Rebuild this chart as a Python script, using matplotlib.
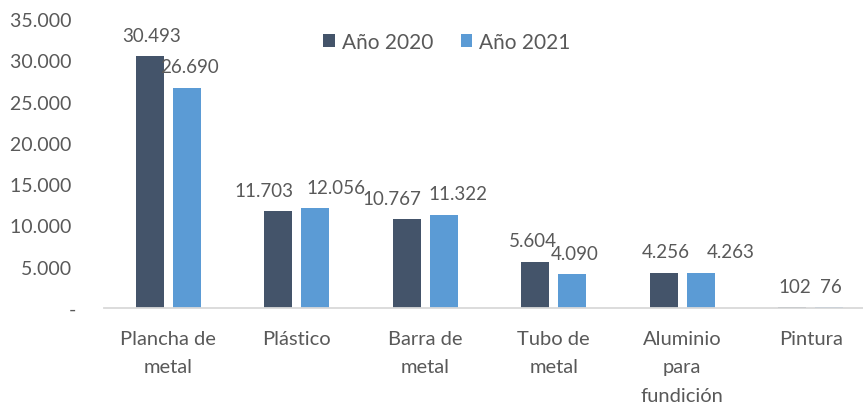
import numpy as np
import matplotlib
matplotlib.use("Agg")
import matplotlib.pyplot as plt
from matplotlib.ticker import FuncFormatter

categorias = ["Plancha de\nmetal", "Plástico", "Barra de\nmetal", "Tubo de\nmetal",
              "Aluminio\npara\nfundición", "Pintura"]
anio_2020 = [30493, 11703, 10767, 5604, 4256, 102]
anio_2021 = [26690, 12056, 11322, 4090, 4263, 76]
# desplazamiento horizontal de las etiquetas (px), como en el original
desp_2020 = [2, -14, -15, -2, 2, 3]
desp_2021 = [3, 21, 14, 2, 30, 2]

plt.rcParams['font.family'] = ['Lato', 'DejaVu Sans']
gris = "#595959"

fig = plt.figure(figsize=(8.63, 4.06), dpi=100)
ax = fig.add_axes([104/863, 97/406, 771/863, 289/406])

x = np.arange(len(categorias))
ancho = 0.218
b1 = ax.bar(x - 0.144, anio_2020, ancho, color="#44546A", label="Año 2020")
b2 = ax.bar(x + 0.144, anio_2021, ancho, color="#5B9BD5", label="Año 2021")

def fmt(v):
    return f"{int(v):,}".replace(",", ".")

for barras, desp in ((b1, desp_2020), (b2, desp_2021)):
    for b, d in zip(barras, desp):
        h = b.get_height()
        ax.annotate(fmt(h), (b.get_x() + b.get_width()/2, h), xytext=(d * 0.72, 9),
                    textcoords="offset points", ha="center", va="bottom",
                    fontsize=13.5, color=gris)

ax.set_xlim(-0.5, len(categorias) - 0.5)
ax.set_ylim(0, 35000)
ax.set_yticks(np.arange(0, 35001, 5000))
ax.yaxis.set_major_formatter(FuncFormatter(lambda v, p: "-" if v == 0 else fmt(v) + " "))
ax.set_xticks(x)
ax.set_xticklabels(categorias, linespacing=1.8)
ax.tick_params(axis="both", length=0, labelcolor=gris)
ax.tick_params(axis="x", pad=16, labelsize=14.5)
ax.tick_params(axis="y", pad=20, labelsize=14)
for s in ["top", "right", "left"]:
    ax.spines[s].set_visible(False)
ax.spines["bottom"].set_color("#D9D9D9")
ax.spines["bottom"].set_linewidth(1.3)

fig.legend(loc="center", bbox_to_anchor=(447/863, 1 - 43/406), ncol=2, frameon=False,
           fontsize=15, labelcolor=gris, handlelength=0.55, handleheight=0.55,
           handletextpad=0.35, columnspacing=1.3)

fig.savefig("out.png", dpi=100)
